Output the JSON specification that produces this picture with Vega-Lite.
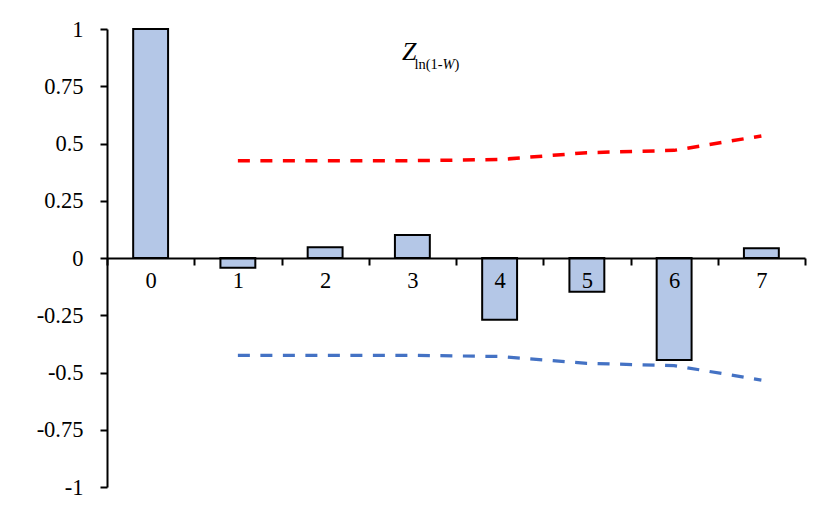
{
  "$schema": "https://vega.github.io/schema/vega-lite/v6.json",
  "autosize": "none",
  "width": 698,
  "height": 458,
  "padding": {"left": 107, "top": 29, "right": 21, "bottom": 20},
  "background": "white",
  "config": {
    "view": {"stroke": null},
    "font": "Liberation Serif"
  },
  "data": {
    "values": [
      {"lag": 0, "acf": 1.0},
      {"lag": 1, "acf": -0.043, "upper": 0.425, "lower": -0.425},
      {"lag": 2, "acf": 0.047, "upper": 0.425, "lower": -0.425},
      {"lag": 3, "acf": 0.1, "upper": 0.425, "lower": -0.425},
      {"lag": 4, "acf": -0.27, "upper": 0.43, "lower": -0.43},
      {"lag": 5, "acf": -0.147, "upper": 0.46, "lower": -0.46},
      {"lag": 6, "acf": -0.445, "upper": 0.47, "lower": -0.47},
      {"lag": 7, "acf": 0.043, "upper": 0.533, "lower": -0.533}
    ]
  },
  "encoding": {
    "x": {
      "field": "lag",
      "type": "ordinal",
      "scale": {"paddingInner": 0, "paddingOuter": 0},
      "axis": {
        "title": null,
        "orient": "bottom",
        "offset": -229,
        "labelAngle": 0,
        "tickBand": "extent",
        "domainColor": "black",
        "domainWidth": 2,
        "tickColor": "black",
        "tickWidth": 2,
        "tickSize": 7,
        "labelFont": "Liberation Serif",
        "labelFontSize": 22.5,
        "labelColor": "black",
        "labelPadding": 4,
        "grid": false,
        "zindex": 1
      }
    }
  },
  "layer": [
    {
      "mark": {"type": "bar", "width": {"band": 0.4}, "fill": "#B4C7E7", "stroke": "black", "strokeWidth": 2},
      "encoding": {
        "y": {
          "field": "acf",
          "type": "quantitative",
          "scale": {"domain": [-1, 1], "nice": false},
          "axis": {
            "title": null,
            "values": [-1, -0.75, -0.5, -0.25, 0, 0.25, 0.5, 0.75, 1],
            "labelExpr": "'' + datum.value",
            "grid": false,
            "domainColor": "black",
            "domainWidth": 2,
            "tickColor": "black",
            "tickWidth": 2,
            "tickSize": 7,
            "labelFont": "Liberation Serif",
            "labelFontSize": 22.5,
            "labelColor": "black",
            "labelPadding": 17
          }
        }
      }
    },
    {
      "mark": {"type": "line", "color": "#FF0000", "strokeWidth": 3.5, "strokeDash": [12, 10.5]},
      "encoding": {"y": {"field": "upper", "type": "quantitative"}}
    },
    {
      "mark": {"type": "line", "color": "#4472C4", "strokeWidth": 3.2, "strokeDash": [12, 10.5]},
      "encoding": {"y": {"field": "lower", "type": "quantitative"}}
    },
    {
      "data": {"values": [{"t": "Z"}]},
      "mark": {"type": "text", "font": "Liberation Serif", "fontSize": 26, "fontStyle": "italic", "align": "right", "baseline": "alphabetic", "dx": 4, "color": "black"},
      "encoding": {"x": {"datum": 3}, "y": {"datum": 0.865}, "text": {"field": "t"}}
    },
    {
      "data": {"values": [{"t": "ln(1-"}]},
      "mark": {"type": "text", "font": "Liberation Serif", "fontSize": 14.5, "align": "left", "baseline": "alphabetic", "dx": 2, "dy": 9, "color": "black"},
      "encoding": {"x": {"datum": 3}, "y": {"datum": 0.865}, "text": {"field": "t"}}
    },
    {
      "data": {"values": [{"t": "W"}]},
      "mark": {"type": "text", "font": "Liberation Serif", "fontSize": 14.5, "fontStyle": "italic", "align": "left", "baseline": "alphabetic", "dx": 30, "dy": 9, "color": "black"},
      "encoding": {"x": {"datum": 3}, "y": {"datum": 0.865}, "text": {"field": "t"}}
    },
    {
      "data": {"values": [{"t": ")"}]},
      "mark": {"type": "text", "font": "Liberation Serif", "fontSize": 14.5, "align": "left", "baseline": "alphabetic", "dx": 42, "dy": 9, "color": "black"},
      "encoding": {"x": {"datum": 3}, "y": {"datum": 0.865}, "text": {"field": "t"}}
    }
  ]
}
